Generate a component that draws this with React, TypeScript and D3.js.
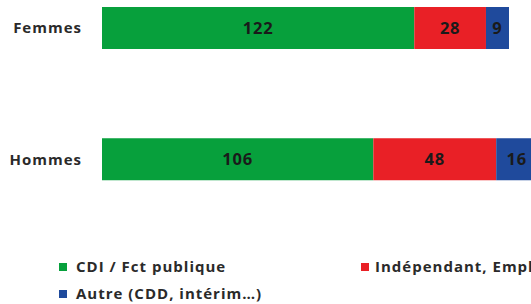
import React from 'react'
import * as d3 from 'd3'

const categories = ['Femmes', 'Hommes']
const seriesNames = ['CDI / Fct publique', 'Indépendant, Employeur', 'Autre (CDD, intérim…)']
const cdi = [122, 106]
const independant = [28, 48]
const autre = [9, 16]
const colors = ['#07a03c', '#e92026', '#1f4a9c']

const width = 531
const height = 304

export default function App() {
	const rows = categories.map((c, i) => ({ cat: c, s0: cdi[i], s1: independant[i], s2: autre[i] }))
	const stacked = d3.stack<any>().keys(['s0', 's1', 's2'])(rows)

	const x = d3.scaleLinear().domain([0, 159]).range([102, 509])
	const y = d3.scaleBand().domain(categories).range([7, 180.25]).paddingInner(0.68).paddingOuter(0)

	const font = '"Open Sans", "Liberation Sans", sans-serif'

	// legend positions
	const legend = [
		{ x: 59, y: 267, tx: 17 },
		{ x: 361, y: 267, tx: 14 },
		{ x: 59, y: 294, tx: 17 },
	]

	return (
		<svg
			width={width}
			height={height}
			style={{ position: 'absolute', left: 0, top: 0, background: '#fff' }}
			fontFamily={font}
		>
			{stacked.map((layer, li) => (
				<g key={li}>
					{layer.map((d, i) => (
						<rect
							key={i}
							x={x(d[0])}
							y={y(categories[i])}
							width={x(d[1]) - x(d[0])}
							height={y.bandwidth()}
							fill={colors[li]}
						/>
					))}
					{layer.map((d, i) => (
						<text
							key={'t' + i}
							x={(x(d[0]) + x(d[1])) / 2}
							y={(y(categories[i]) as number) + y.bandwidth() / 2}
							dy="0.36em"
							textAnchor="middle"
							fontSize={16.5}
							letterSpacing={0.8}
							fontWeight="bold"
							fill="#1a1a1a"
						>
							{d[1] - d[0]}
						</text>
					))}
				</g>
			))}
			{categories.map((c) => (
				<text
					key={c}
					x={82}
					y={(y(c) as number) + y.bandwidth() / 2}
					dy="0.36em"
					textAnchor="end"
					fontSize={15}
					letterSpacing={1}
					fontWeight="bold"
					fill="#2a2a2a"
				>
					{c}
				</text>
			))}
			{seriesNames.map((s, i) => (
				<g key={s} transform={`translate(${legend[i].x},${legend[i].y})`}>
					<rect x={0} y={-4} width={8} height={8} fill={colors[i]} />
					<text
						x={legend[i].tx}
						y={0}
						dy="0.36em"
						fontSize={15}
						letterSpacing={1}
						fontWeight="bold"
						fill="#2a2a2a"
					>
						{s}
					</text>
				</g>
			))}
		</svg>
	)
}
